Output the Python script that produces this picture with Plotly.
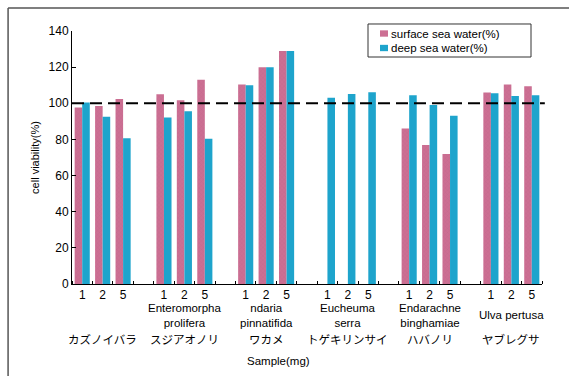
import plotly.graph_objects as go

# Seaweed extracts and dose levels
species_latin = ["", "Enteromorpha<br>prolifera", "ndaria<br>pinnatifida",
                 "Eucheuma<br>serra", "Endarachne<br>binghamiae", "Ulva pertusa"]
species_jp = ["カズノイバラ", "スジアオノリ", "ワカメ", "トゲキリンサイ", "ハバノリ", "ヤブレグサ"]
doses = ["1", "2", "5"]
series_names = ["surface sea water(%)", "deep sea water(%)"]

# Cell viability (%) per species, per dose
surface = [
    [97.6, 98.5, 102.4],
    [105.0, 101.7, 113.0],
    [110.4, 120.0, 129.0],
    [None, None, None],
    [86.1, 76.9, 71.9],
    [105.9, 110.4, 109.4],
]
deep = [
    [100.4, 92.6, 80.7],
    [92.2, 95.6, 80.4],
    [110.0, 120.0, 129.0],
    [103.0, 105.2, 106.1],
    [104.4, 99.1, 93.1],
    [105.6, 104.1, 104.4],
]

PINK = "#cc6f93"
BLUE = "#1ea4cc"
FONT = "Liberation Sans, Arial, sans-serif"
JP_FONT = "Noto Sans CJK JP, sans-serif"

# Slot layout: three doses per species, one empty slot between species
slot = 4
xpos, tick_text = [], []
for g in range(len(species_jp)):
    for d in range(len(doses)):
        xpos.append(g * slot + d)
        tick_text.append(doses[d])
n_slots = slot * len(species_jp) - 1

surf_flat = [v for grp in surface for v in grp]
deep_flat = [v for grp in deep for v in grp]

pink_marker = dict(color=PINK, line=dict(width=0),
                   pattern=dict(shape="x", size=3, solidity=0.15,
                                fgcolor="#b05a7c", fillmode="overlay"))
blue_marker = dict(color=BLUE, line=dict(width=0))

fig = go.Figure()
fig.add_trace(go.Bar(x=xpos, y=surf_flat, name=series_names[0], marker=pink_marker))
fig.add_trace(go.Bar(x=xpos, y=deep_flat, name=series_names[1], marker=blue_marker))

fig.update_layout(
    width=569, height=376,
    margin=dict(l=72, r=27, t=31, b=92),
    paper_bgcolor="white", plot_bgcolor="white",
    barmode="group", bargap=0.26, bargroupgap=0,
    font=dict(family=FONT, size=12, color="black"),
    showlegend=False,
)

fig.update_xaxes(
    range=[-0.5, n_slots - 0.5],
    tickmode="array", tickvals=xpos, ticktext=tick_text,
    ticks="", showgrid=False, zeroline=False,
    showline=True, linecolor="black", linewidth=1,
    tickfont=dict(size=12),
    minor=dict(tickmode="array",
               tickvals=[i - 0.5 for i in range(n_slots + 1)],
               ticks="inside", ticklen=3, tickcolor="black", showgrid=False),
)
fig.update_yaxes(
    range=[0, 140], dtick=20,
    ticks="inside", ticklen=4, tickcolor="black",
    showgrid=False, zeroline=False,
    showline=True, linecolor="black", linewidth=1,
    tickfont=dict(size=12),
    title=dict(text="cell viability(%)", font=dict(size=11), standoff=6),
)

# Reference line at 100 %
fig.add_shape(type="line", xref="paper", yref="y", x0=0, x1=1.006, y0=100, y1=100,
              line=dict(color="black", width=2, dash="12px,6px"))

# Outer frame (top and left edges)
fig.add_shape(type="line", xref="paper", yref="paper",
              x0=-0.136, x1=1.2, y0=1.091, y1=1.091,
              line=dict(color="#555", width=1.5))
fig.add_shape(type="line", xref="paper", yref="paper",
              x0=-0.136, x1=-0.136, y0=1.091, y1=-0.4,
              line=dict(color="#555", width=1.5))

# Legend box with swatches
fig.add_shape(type="rect", xref="paper", yref="paper",
              x0=0.6298, x1=0.9766, y0=1.0277, y1=0.8972,
              line=dict(color="#333", width=1), fillcolor="white", layer="above")
for i, (name, color) in enumerate(zip(series_names, [PINK, BLUE])):
    yc = 0.9901 - i * 0.0573
    fig.add_shape(type="rect", xref="paper", yref="paper",
                  x0=0.6553, x1=0.6723, y0=yc - 0.0125, y1=yc + 0.0125,
                  line=dict(width=0), fillcolor=color, layer="above")
    fig.add_annotation(x=0.6745, xref="paper", y=yc, yref="paper",
                       text=name, showarrow=False, xanchor="left",
                       yanchor="middle", font=dict(size=11.5))

# Species names under each dose group
for g in range(len(species_jp)):
    cx = g * slot + 1
    if species_latin[g]:
        fig.add_annotation(x=cx, xref="x", y=-0.124, yref="paper",
                           text=species_latin[g], showarrow=False,
                           yanchor="middle", font=dict(size=11.5), align="center")
    fig.add_annotation(x=cx, xref="x", y=-0.217, yref="paper",
                       text=species_jp[g], showarrow=False,
                       yanchor="middle", font=dict(size=11.5, family=JP_FONT))

fig.add_annotation(x=0.44, xref="paper", y=-0.305, yref="paper",
                   text="Sample(mg)", showarrow=False, yanchor="middle",
                   font=dict(size=11.5))

fig.write_html("out.html")
